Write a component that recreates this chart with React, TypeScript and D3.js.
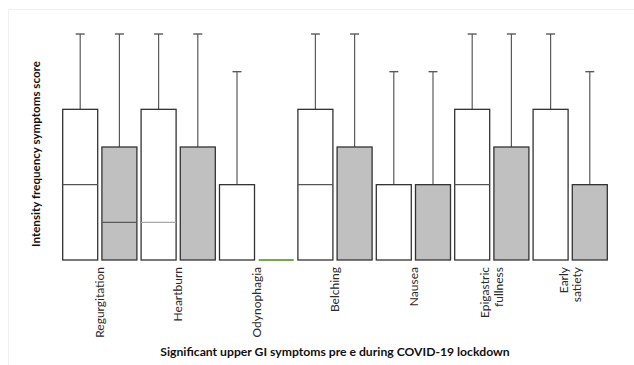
import React from 'react';
import * as d3 from 'd3';

// symptom groups (two boxes each: pre / during lockdown)
const categories = ['Regurgitation', 'Heartburn', 'Odynophagia', 'Belching', 'Nausea', 'Epigastric\nfullness', 'Early\nsatiety'];

// pre lockdown (white boxes)
const preMin = [0, 0, 0, 0, 0, 0, 0];
const preMedian = [2, 1, 0, 2, 0, 2, 0];
const preQ3 = [4, 4, 2, 4, 2, 4, 4];
const preMax = [6, 6, 5, 6, 5, 6, 6];

// during lockdown (grey boxes)
const durMin = [0, 0, 0, 0, 0, 0, 0];
const durMedian = [1, 0, 0, 0, 0, 0, 0];
const durQ3 = [3, 3, 0, 3, 2, 3, 2];
const durMax = [6, 6, 0, 6, 5, 6, 5];

const yTicks = [0, 1, 2, 3, 4, 5, 6];

const width = 634;
const height = 365;

export default function App() {
    const slots = d3.range(categories.length * 2);
    const x = d3.scaleBand<number>().domain(slots).range([62.7, 607.3]).paddingInner(0.107).paddingOuter(0);
    const y = d3.scaleLinear().domain([d3.min(yTicks)!, d3.max(yTicks)!]).range([260, 34]);
    const bw = x.bandwidth();

    const boxes = categories.flatMap((c, i) => [
        { slot: i * 2, min: preMin[i], med: preMedian[i], q3: preQ3[i], max: preMax[i], fill: '#ffffff', medColor: i === 1 ? '#a8a8a8' : '#555' },
        { slot: i * 2 + 1, min: durMin[i], med: durMedian[i], q3: durQ3[i], max: durMax[i], fill: '#c0c0c0', medColor: '#5a5a5a' },
    ]);

    return (
        <svg width={width} height={height} style={{ position: 'absolute', left: 0, top: 0, background: '#fff' }}
            fontFamily="Lato, 'Open Sans', sans-serif">
            <rect x={8.5} y={9.5} width={640} height={360} fill="none" stroke="#f0f0f0" />
            {boxes.map(b => {
                const x0 = x(b.slot)!;
                const cx = x0 + bw / 2;
                if (b.q3 === b.min) {
                    // flat box: all values zero
                    return <line key={b.slot} x1={x0} x2={x0 + bw} y1={y(0)} y2={y(0)} stroke="#70ad47" strokeWidth={1.8} />;
                }
                return (
                    <g key={b.slot}>
                        <line x1={cx} x2={cx} y1={y(b.max)} y2={y(b.q3)} stroke="#5a5a5a" strokeWidth={1.2} />
                        <line x1={cx - 4.5} x2={cx + 4.5} y1={y(b.max)} y2={y(b.max)} stroke="#5a5a5a" strokeWidth={1.4} />
                        <rect x={x0} y={y(b.q3)} width={bw} height={y(b.min) - y(b.q3)} fill={b.fill} stroke="#333" strokeWidth={1.3} />
                        {b.med > b.min && b.med < b.q3 && (
                            <line x1={x0} x2={x0 + bw} y1={y(b.med)} y2={y(b.med)} stroke={b.medColor} strokeWidth={1.2} />
                        )}
                    </g>
                );
            })}
            {categories.map((c, i) => {
                const cx = (x(i * 2)! + x(i * 2 + 1)! + bw) / 2;
                const lines = c.split('\n');
                return lines.map((l, j) => {
                    const lx = cx + (j - (lines.length - 1) / 2) * 13.5;
                    return (
                        <text key={c + j} transform={`translate(${lx},267) rotate(-90)`} textAnchor="end" dy="0.35em"
                            fontSize={12} fill="#2a2a2a">{l}</text>
                    );
                });
            })}
            <text transform="translate(36,154) rotate(-90)" textAnchor="middle" dy="0.35em" fontSize={11.6} fontWeight="bold" fill="#111">
                Intensity frequency symptoms score
            </text>
            <text x={335} y={356} textAnchor="middle" fontSize={12.2} fontWeight="bold" fill="#111">
                Significant upper GI symptoms pre e during COVID-19 lockdown
            </text>
        </svg>
    );
}
